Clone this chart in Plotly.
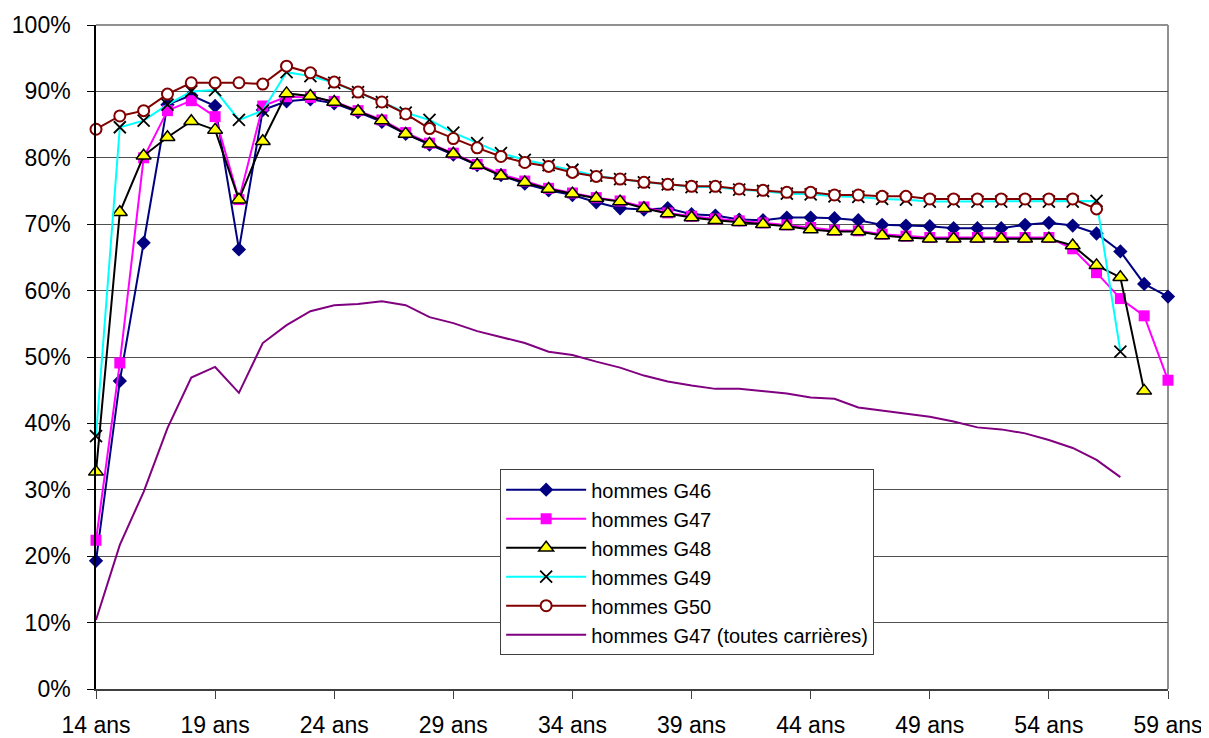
import plotly.graph_objects as go

ages = list(range(14, 60))
tick_vals = [14, 19, 24, 29, 34, 39, 44, 49, 54, 59]
tick_text = ["14 ans", "19 ans", "24 ans", "29 ans", "34 ans", "39 ans", "44 ans", "49 ans", "54 ans", "59 ans"]
y_ticks = [0, 10, 20, 30, 40, 50, 60, 70, 80, 90, 100]
y_tick_text = ["0%", "10%", "20%", "30%", "40%", "50%", "60%", "70%", "80%", "90%", "100%"]

# ages 14..59
g46 = [19.3, 46.4, 67.2, 88.0, 89.4, 87.8, 66.2, 87.2, 88.5, 88.8,
       88.2, 86.9, 85.4, 83.6, 82.0, 80.5, 78.9, 77.4, 76.1, 75.1,
       74.4, 73.3, 72.4, 72.2, 72.4, 71.5, 71.3, 70.7, 70.6, 71.0,
       71.0, 70.9, 70.6, 69.9, 69.8, 69.7, 69.4, 69.4, 69.4, 69.9,
       70.2, 69.8, 68.6, 65.9, 61.0, 59.1]
g47 = [22.4, 49.1, 80.0, 87.1, 88.6, 86.2, 73.7, 87.8, 89.2, 89.1,
       88.5, 87.1, 85.7, 83.8, 82.2, 80.7, 79.0, 77.5, 76.5, 75.4,
       74.7, 74.0, 73.5, 72.6, 71.7, 71.2, 70.8, 70.5, 70.2, 69.9,
       69.5, 69.1, 69.0, 68.5, 68.2, 68.0, 68.0, 68.0, 68.0, 68.0,
       68.0, 66.3, 62.7, 58.8, 56.2, 46.5]
g48 = [32.7, 71.8, 80.3, 83.1, 85.5, 84.2, 73.7, 82.5, 89.7, 89.3,
       88.4, 87.0, 85.6, 83.6, 82.1, 80.6, 78.9, 77.3, 76.3, 75.3,
       74.6, 73.9, 73.4, 72.4, 71.6, 71.0, 70.6, 70.3, 70.0, 69.7,
       69.2, 68.9, 68.9, 68.3, 68.0, 67.8, 67.8, 67.8, 67.8, 67.8,
       67.8, 66.8, 63.8, 62.0, 44.9, None]
g49 = [38.1, 84.6, 85.6, 88.0, 90.0, 90.2, 85.7, 87.1, 92.9, 92.3,
       91.3, 89.9, 88.4, 86.8, 85.7, 83.8, 82.2, 80.7, 79.7, 78.9,
       78.2, 77.3, 76.8, 76.3, 76.0, 75.6, 75.6, 75.2, 75.0, 74.6,
       74.5, 74.2, 74.1, 73.8, 73.7, 73.4, 73.4, 73.4, 73.4, 73.4,
       73.4, 73.4, 73.5, 50.8, None, None]
g50 = [84.3, 86.3, 87.1, 89.6, 91.3, 91.3, 91.3, 91.1, 93.8, 92.8,
       91.4, 89.9, 88.4, 86.6, 84.4, 82.9, 81.5, 80.2, 79.3, 78.7,
       77.8, 77.2, 76.8, 76.3, 76.0, 75.7, 75.7, 75.3, 75.1, 74.8,
       74.8, 74.4, 74.4, 74.2, 74.2, 73.8, 73.8, 73.8, 73.8, 73.8,
       73.8, 73.8, 72.3, None, None, None]
g47_all = [10.4, 21.7, 29.7, 39.3, 46.9, 48.5, 44.6, 52.1, 54.8, 56.9,
           57.8, 58.0, 58.4, 57.8, 56.0, 55.1, 53.9, 53.0, 52.1, 50.8,
           50.3, 49.3, 48.4, 47.2, 46.3, 45.7, 45.2, 45.2, 44.9, 44.5,
           43.9, 43.7, 42.4, 41.9, 41.5, 41.0, 40.3, 39.4, 39.1, 38.5,
           37.5, 36.3, 34.5, 31.9, None, None]

FONT = "Liberation Sans, Arial, sans-serif"

fig = go.Figure()
fig.add_trace(go.Scatter(
    x=ages, y=g46, name="hommes G46", mode="lines+markers",
    line=dict(color="#000080", width=2),
    marker=dict(symbol="diamond", size=11, color="#000080"),
    cliponaxis=False))
fig.add_trace(go.Scatter(
    x=ages, y=g47, name="hommes G47", mode="lines+markers",
    line=dict(color="#FF00FF", width=2),
    marker=dict(symbol="square", size=11, color="#FF00FF"),
    cliponaxis=False))
fig.add_trace(go.Scatter(
    x=ages, y=g48, name="hommes G48", mode="lines+markers",
    line=dict(color="#000000", width=2),
    marker=dict(symbol="triangle-up", size=13, color="#FFFF00",
                line=dict(color="#000000", width=1.5)),
    cliponaxis=False))
fig.add_trace(go.Scatter(
    x=ages, y=g49, name="hommes G49", mode="lines+markers",
    line=dict(color="#00FFFF", width=2),
    marker=dict(symbol="x-thin", size=12, color="#000000",
                line=dict(color="#000000", width=1.8)),
    cliponaxis=False))
fig.add_trace(go.Scatter(
    x=ages, y=g50, name="hommes G50", mode="lines+markers",
    line=dict(color="#800000", width=2),
    marker=dict(symbol="circle", size=11, color="#FFFFFF",
                line=dict(color="#800000", width=2)),
    cliponaxis=False))
fig.add_trace(go.Scatter(
    x=ages, y=g47_all, name="hommes G47 (toutes carrières)", mode="lines",
    line=dict(color="#800080", width=2)))

# page body has an 8px margin: figure is offset by (8, 8)
fig.update_layout(
    width=1201, height=730,
    margin=dict(l=88, r=41, t=17, b=49, autoexpand=False),
    paper_bgcolor="white", plot_bgcolor="white",
    font=dict(family=FONT, size=23, color="black"),
    showlegend=True,
    legend=dict(
        x=0.377, y=0.331, xanchor="left", yanchor="top",
        bgcolor="white", bordercolor="#404040", borderwidth=1,
        font=dict(family=FONT, size=20, color="black"),
        tracegroupgap=0, itemwidth=80,
    ),
)
fig.update_xaxes(
    range=[14, 59], tickmode="array", tickvals=tick_vals, ticktext=tick_text,
    showgrid=False, zeroline=False, automargin=False,
    showline=True, linecolor="#404040", linewidth=2,
    ticks="outside", ticklen=8, tickcolor="#404040", tickwidth=1,
    ticklabelstandoff=6,
)
fig.update_yaxes(
    range=[0, 100], tickmode="array", tickvals=y_ticks, ticktext=y_tick_text,
    showgrid=True, gridcolor="#505050", gridwidth=1, zeroline=False, automargin=False,
    showline=True, linecolor="#000000", linewidth=1.5,
    ticks="outside", ticklen=7, tickcolor="#000000", tickwidth=1,
    ticklabelstandoff=12,
)
# plot-area border (top and right, grey)
fig.add_shape(type="line", xref="paper", yref="paper", x0=0, x1=1, y0=1, y1=1,
              line=dict(color="#909090", width=2), layer="below")
fig.add_shape(type="line", xref="paper", yref="paper", x0=1, x1=1, y0=0, y1=1,
              line=dict(color="#909090", width=2), layer="below")

fig.write_html("out.html")
